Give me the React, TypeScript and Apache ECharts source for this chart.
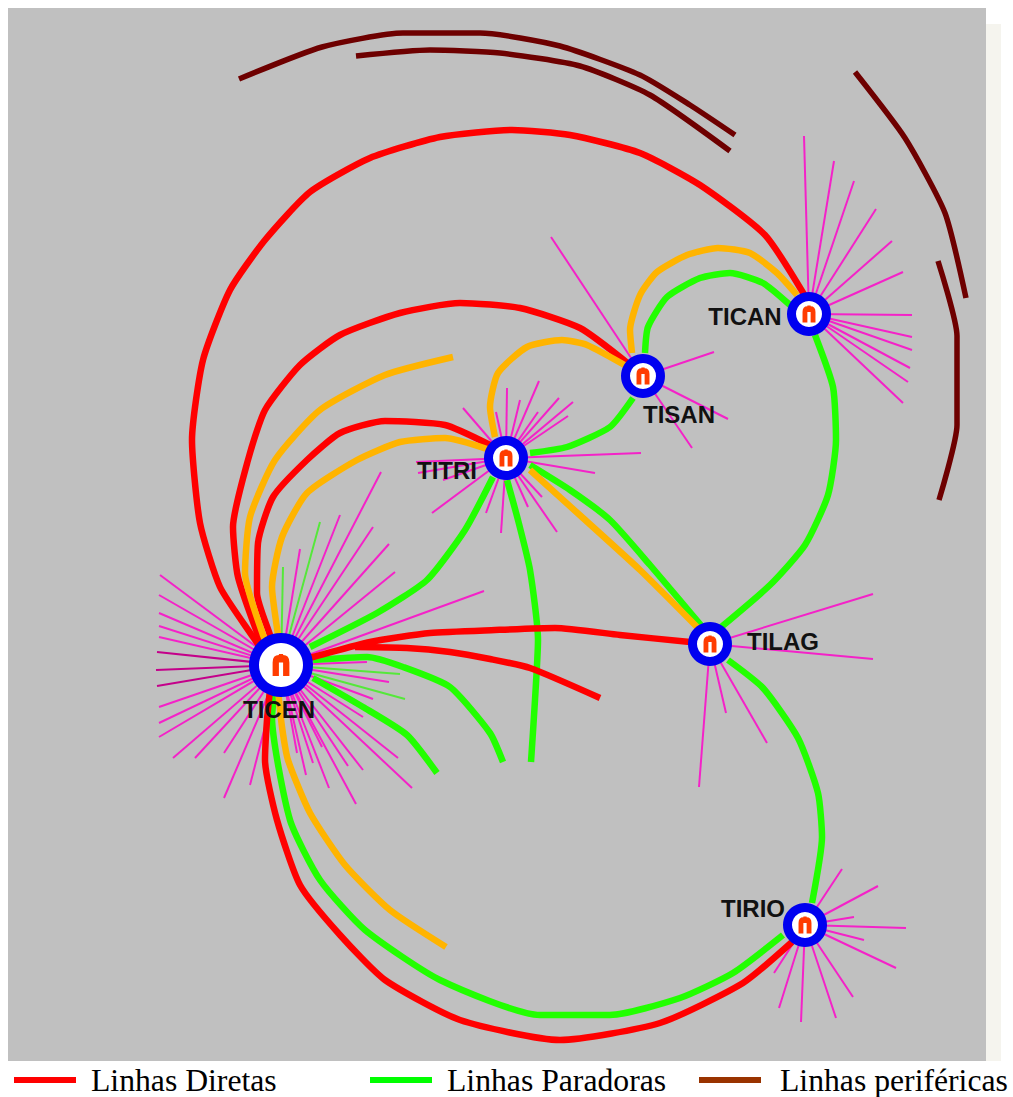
import React, { useEffect, useRef } from "react";
import * as echarts from "echarts";

type Pt = [number, number];

const directLabel = "Linhas Diretas";
const stoppingLabel = "Linhas Paradoras";
const peripheralLabel = "Linhas periféricas";

const directRoutes: Pt[][] = [
  [[262,650],[253,637],[220,587],[200,523],[192,440],[203,360],[230,290],[265,240],[310,192],[370,158],[440,137],[512,130],[570,135],[640,153],[700,185],[765,235],[805,296]],
  [[270,655],[260,640],[238,577],[233,527],[248,460],[265,410],[300,365],[340,335],[400,313],[460,303],[520,308],[580,328],[630,365]],
  [[275,650],[270,635],[257,593],[258,543],[273,497],[307,460],[340,433],[385,421],[445,425],[490,445]],
  [[300,660],[313,657],[370,642],[430,633],[495,630],[555,628],[620,635],[690,642]],
  [[355,647],[407,648],[450,652],[490,659],[530,668],[600,698]],
  [[270,690],[267,720],[265,760],[277,820],[300,885],[340,935],[385,980],[460,1020],[560,1040],[660,1023],[743,983],[792,942]],
];

const stoppingRoutes: Pt[][] = [
  [[815,335],[833,387],[836,440],[828,495],[805,545],[770,585],[720,628]],
  [[645,353],[648,327],[667,297],[700,278],[730,273],[763,283],[790,305]],
  [[530,453],[567,447],[610,427],[633,398]],
  [[530,465],[570,490],[610,520],[650,565],[705,630]],
  [[493,477],[465,530],[427,580],[377,613],[310,647]],
  [[507,480],[518,520],[530,570],[538,640],[535,700],[531,762]],
  [[313,660],[367,657],[403,667],[450,687],[490,733],[503,762]],
  [[313,678],[363,707],[407,735],[437,773]],
  [[728,660],[763,688],[798,738],[818,793],[822,837],[812,903]],
  [[275,690],[272,717],[290,820],[320,880],[365,930],[440,980],[540,1015],[610,1015],[680,998],[733,973],[783,935]],
];

const orangeRoutes: Pt[][] = [
  [[453,357],[385,375],[320,410],[275,460],[250,517],[245,573],[263,635],[270,650]],
  [[490,450],[445,438],[400,442],[357,460],[307,493],[282,537],[272,587],[278,635],[280,650]],
  [[628,367],[587,345],[562,340],[527,347],[498,373],[490,407],[495,437]],
  [[632,353],[630,330],[640,295],[657,272],[687,255],[718,248],[750,253],[777,273],[797,295]],
  [[530,470],[583,518],[640,570],[700,630]],
  [[278,690],[282,727],[288,760],[310,813],[345,865],[390,910],[446,947]],
];

const peripheralRoutes: Pt[][] = [
  [[239,79],[322,47],[403,33],[480,33],[560,46],[640,75],[690,105],[735,135]],
  [[356,56],[430,50],[500,53],[580,66],[650,95],[730,151]],
  [[855,72],[905,138],[945,213],[966,298]],
  [[938,261],[957,336],[957,425],[939,500]],
];

const stationNames = ["TICEN", "TITRI", "TISAN", "TICAN", "TILAG", "TIRIO"];
const stationX = [281, 506, 643, 809, 710, 805];
const stationY = [665, 458, 376, 314, 644, 925];
const stationLabelX = [279, 447, 679, 745, 783, 753];
const stationLabelY = [709, 470, 414, 316, 641, 908];

const ticenSpokes: Pt[] = [
  [160,575],[159,595],[159,613],[159,626],[159,637],[159,707],[159,723],[159,737],[173,758],[195,758],
  [224,753],[224,798],[250,785],[297,753],[322,747],[306,775],[313,763],[329,788],[348,766],[356,804],
  [363,770],[412,788],[398,758],[363,717],[373,699],[389,682],[367,662],[300,549],[340,515],[381,472],
  [373,527],[389,544],[395,572],[484,591],
];
const ticenDarkSpokes: Pt[] = [[157,652],[156,670],[157,686]];
const ticenGreenSpokes: Pt[] = [[283,567],[320,522],[400,674],[405,699]];
const titriSpokes: Pt[] = [
  [463,408],[496,412],[507,388],[520,400],[539,381],[538,412],[559,398],[573,402],[568,416],[641,453],
  [595,473],[542,497],[528,507],[557,532],[501,533],[486,513],[432,513],[416,462],[418,473],[443,480],
];
const tisanSpokes: Pt[] = [[551,237],[714,352],[728,419],[692,448]];
const ticanSpokes: Pt[] = [
  [804,136],[834,161],[854,181],[876,209],[892,241],[903,272],[912,315],[912,337],[912,350],[910,368],[908,382],[903,403],
];
const tilagSpokes: Pt[] = [[873,594],[873,659],[699,787],[726,713],[767,743]];
const tirioSpokes: Pt[] = [
  [842,869],[878,886],[854,917],[906,928],[864,940],[896,968],[853,997],[836,1018],[801,1022],[779,1008],[774,973],
];

const RED = "#ff0000";
const GREEN = "#22ff00";
const ORANGE = "#ffb400";
const MAROON = "#6e0000";
const MAGENTA = "#f422c8";
const ARCH =
  "path://M0,20 L0,7 Q0,0 6,0 L6,-1 L10,-1 L10,0 Q16,0 16,7 L16,20 L10,20 L10,7 L6,7 L6,20 Z";

function routeSeries(name: string, routes: Pt[][], color: string, width: number) {
  return routes.map((r) => ({
    type: "line",
    name,
    data: r,
    smooth: 0.2,
    showSymbol: false,
    silent: true,
    itemStyle: { color },
    lineStyle: { color, width, cap: "butt", join: "round" },
  }));
}

function spokes(hub: number, ends: Pt[], color: string, width: number) {
  const from: Pt = [stationX[hub], stationY[hub]];
  return {
    type: "lines",
    coordinateSystem: "cartesian2d",
    silent: true,
    z: 1,
    lineStyle: { color, width, opacity: 1, curveness: 0 },
    data: ends.map((e) => ({ coords: [from, e] })),
  };
}

function legendAt(name: string, left: number, color: string, gap: number) {
  return {
    left,
    top: 1064,
    icon: "rect",
    itemWidth: 62,
    itemHeight: 6,
    selectedMode: false,
    padding: 0,
    textStyle: {
      fontFamily: "Liberation Serif",
      fontSize: 31.7,
      color: "#000",
      padding: [0, 0, 0, gap],
    },
    data: [{ name, itemStyle: { color }, lineStyle: { color, opacity: 0 } }],
  };
}

const hubPoints = stationNames.map((n, i) => ({
  name: n,
  value: [stationX[i], stationY[i]],
}));

export default function App() {
  const ref = useRef<HTMLDivElement>(null);
  useEffect(() => {
    const chart = echarts.init(ref.current!, undefined, { renderer: "svg" });
    chart.setOption({
      animation: false,
      backgroundColor: "#ffffff",
      grid: {
        show: true,
        left: 8,
        top: 8,
        width: 978,
        height: 1053,
        backgroundColor: "#c0c0c0",
        borderWidth: 0,
      },
      xAxis: { type: "value", min: 8, max: 986, show: false },
      yAxis: { type: "value", min: 8, max: 1061, inverse: true, show: false },
      legend: [
        legendAt(directLabel, 14, RED, 10),
        legendAt(stoppingLabel, 370, "#00ff00", 10),
        legendAt(peripheralLabel, 699, "#993300", 14),
      ],
      graphic: [
        {
          type: "rect",
          shape: { x: 986, y: 24, width: 15, height: 1037 },
          style: { fill: "#f5f4ee" },
          silent: true,
        },
      ],
      series: [
        spokes(0, ticenSpokes, MAGENTA, 2),
        spokes(0, ticenDarkSpokes, "#c4008a", 2),
        spokes(0, ticenGreenSpokes, "#55e83a", 2),
        spokes(1, titriSpokes, MAGENTA, 2),
        spokes(2, tisanSpokes, MAGENTA, 2),
        spokes(3, ticanSpokes, MAGENTA, 2),
        spokes(4, tilagSpokes, MAGENTA, 2),
        spokes(5, tirioSpokes, MAGENTA, 2),
        ...routeSeries(peripheralLabel, peripheralRoutes, MAROON, 5.5),
        ...routeSeries(stoppingLabel, stoppingRoutes, GREEN, 6.5),
        ...routeSeries(directLabel, directRoutes, RED, 6.5),
        ...routeSeries("Linhas alimentadoras", orangeRoutes, ORANGE, 6.5),
        {
          type: "scatter",
          silent: true,
          z: 5,
          symbol: "circle",
          symbolSize: (_: unknown, p: any) => (p.dataIndex === 0 ? 64 : 44),
          itemStyle: { color: "#0000f0", opacity: 1 },
          data: hubPoints,
        },
        {
          type: "scatter",
          silent: true,
          z: 6,
          symbol: "circle",
          symbolSize: (_: unknown, p: any) => (p.dataIndex === 0 ? 44 : 26),
          itemStyle: { color: "#ffffff", opacity: 1 },
          data: hubPoints,
        },
        {
          type: "scatter",
          silent: true,
          z: 7,
          symbol: ARCH,
          symbolKeepAspect: true,
          symbolSize: (_: unknown, p: any) => (p.dataIndex === 0 ? 22 : 17),
          itemStyle: { color: "#ff3c00", opacity: 1 },
          data: hubPoints,
        },
        {
          type: "scatter",
          silent: true,
          z: 8,
          symbolSize: 1,
          itemStyle: { color: "rgba(0,0,0,0)" },
          label: {
            show: true,
            position: "inside",
            formatter: "{b}",
            fontFamily: "Liberation Sans",
            fontSize: 24,
            fontWeight: "bold",
            color: "#111111",
            opacity: 1,
          },
          data: stationNames.map((n, i) => ({
            name: n,
            value: [stationLabelX[i], stationLabelY[i]],
          })),
        },
      ],
    });
    return () => chart.dispose();
  }, []);
  return (
    <div
      ref={ref}
      style={{ position: "absolute", left: 0, top: 0, width: 1013, height: 1097 }}
    />
  );
}
